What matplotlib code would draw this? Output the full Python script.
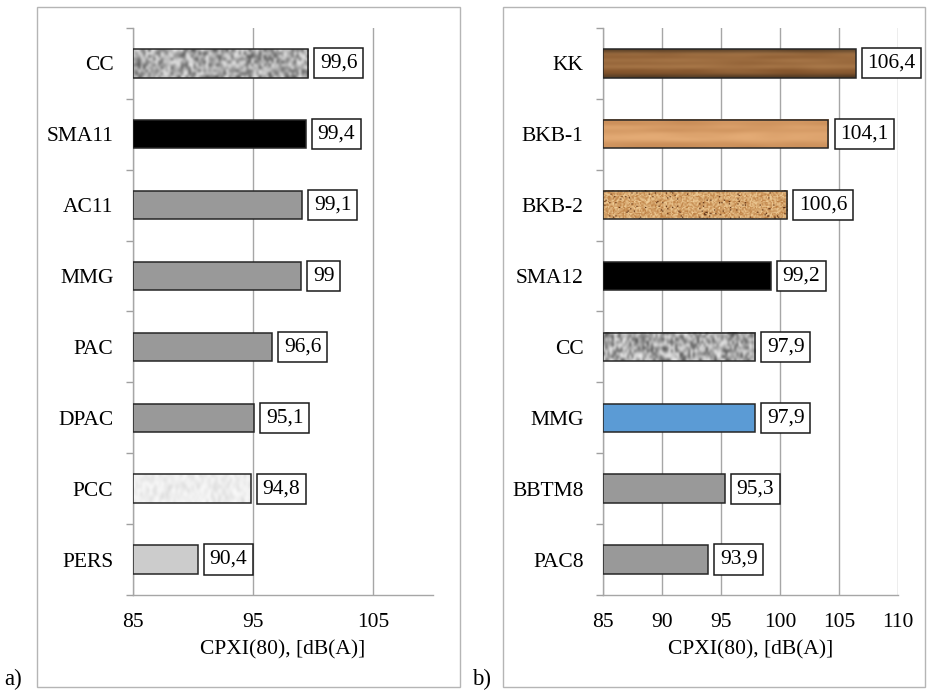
import numpy as np
import matplotlib
matplotlib.use('Agg')
import matplotlib.pyplot as plt
from matplotlib.patches import Rectangle

plt.rcParams['font.family'] = ['Liberation Serif', 'DejaVu Serif']

# panel a)
cat_a = ['CC', 'SMA11', 'AC11', 'MMG', 'PAC', 'DPAC', 'PCC', 'PERS']
val_a = [99.6, 99.4, 99.1, 99.0, 96.6, 95.1, 94.8, 90.4]
lab_a = ['99,6', '99,4', '99,1', '99', '96,6', '95,1', '94,8', '90,4']
fill_a = ['granite', '#000000', '#999999', '#999999', '#999999', '#999999', 'pcc', '#cccccc']

# panel b)
cat_b = ['KK', 'BKB-1', 'BKB-2', 'SMA12', 'CC', 'MMG', 'BBTM8', 'PAC8']
val_b = [106.4, 104.1, 100.6, 99.2, 97.9, 97.9, 95.3, 93.9]
lab_b = ['106,4', '104,1', '100,6', '99,2', '97,9', '97,9', '95,3', '93,9']
fill_b = ['wood_dark', 'wood_light', 'cork', '#000000', 'granite', '#5b9bd5', '#999999', '#999999']

XMIN, XMAX = 85, 110
FS = 15.5
rng = np.random.default_rng(7)  # only for the bar textures


def mix(c1, c2, t):
    c1 = np.array(matplotlib.colors.to_rgb(c1))
    c2 = np.array(matplotlib.colors.to_rgb(c2))
    t = np.clip(t, 0, 1)[..., None]
    return c1 * (1 - t) + c2 * t


def texture(kind):
    if kind == 'granite':
        n = rng.random((10, 70))
        return mix('#4a4a4a', '#f2f2f2', n ** 0.8), 'bicubic'
    if kind == 'pcc':
        n = rng.random((8, 50))
        return mix('#d6d6d6', '#fbfbfb', n ** 0.5), 'bicubic'
    if kind == 'wood_dark':
        rows = rng.random((9, 1))
        n = rows * 0.5 + rng.random((9, 10)) * 0.3 + 0.2
        img = mix('#6a3b17', '#bb8a58', n)
        img[0] *= 0.55
        img[-1] *= 0.5
        return img, 'bicubic'
    if kind == 'wood_light':
        rows = rng.random((9, 1))
        n = rows * 0.5 + rng.random((9, 10)) * 0.3 + 0.2
        return mix('#b87a45', '#eab27c', n), 'bicubic'
    if kind == 'cork':
        n = rng.random((24, 150))
        img = mix('#b97a3e', '#f1cf9a', n ** 0.9)
        dots = rng.random((24, 150)) > 0.97
        img[dots] = matplotlib.colors.to_rgb('#5a2c10')
        return img, 'bilinear'
    return None, None


def draw_panel(ax, cats, vals, labs, fills, ticks):
    n = len(cats)
    ys = np.arange(n)
    h = 0.4
    for y, v, lab, f in zip(ys, vals, labs, fills):
        img, interp = texture(f)
        if img is None:
            ax.barh(y, v - XMIN, left=XMIN, height=h, color=f,
                    edgecolor='#262626', linewidth=1.1, zorder=3)
        else:
            ax.imshow(img, extent=(XMIN, v, y + h / 2, y - h / 2), aspect='auto',
                      interpolation=interp, zorder=3)
            ax.barh(y, v - XMIN, left=XMIN, height=h, facecolor='none',
                    edgecolor='#262626', linewidth=1.1, zorder=4)
        ax.annotate(lab, (v, y), xytext=(8.5, 0), textcoords='offset points',
                    ha='left', va='center', fontsize=FS, zorder=5,
                    bbox=dict(boxstyle='square,pad=0.26', fc='white', ec='#1a1a1a', lw=1.1))
    ax.set_xlim(XMIN, XMAX)
    ax.set_ylim(n - 0.5, -0.5)
    ax.set_yticks(ys)
    ax.set_yticklabels(cats, fontsize=FS)
    ax.set_yticks(np.arange(n + 1) - 0.5, minor=True)
    ax.tick_params(axis='y', which='major', length=0, pad=14)
    ax.tick_params(axis='y', which='minor', length=5, color='#a0a0a0', width=1)
    ax.set_xticks(ticks)
    ax.set_xticklabels([str(t) for t in ticks], fontsize=FS)
    ax.tick_params(axis='x', length=0, pad=13)
    ax.grid(axis='x', color='#a6a6a6', linewidth=1.0, zorder=0)
    ax.set_axisbelow(True)
    for s in ['top', 'right']:
        ax.spines[s].set_visible(False)
    for s in ['left', 'bottom']:
        ax.spines[s].set_color('#a6a6a6')
        ax.spines[s].set_linewidth(1.0)
    ax.set_xlabel('CPXI(80), [dB(A)]', fontsize=FS, labelpad=6)


fig = plt.figure(figsize=(9.3, 6.92), dpi=100)
ax1 = fig.add_axes([0.1430, 0.1402, 0.3226, 0.8194])
ax2 = fig.add_axes([0.6484, 0.1402, 0.3172, 0.8194])

draw_panel(ax1, cat_a, val_a, lab_a, fill_a, [85, 95, 105])
draw_panel(ax2, cat_b, val_b, lab_b, fill_b, [85, 90, 95, 100, 105, 110])

# panel frames
fig.patches.append(Rectangle((0.0398, 0.0072), 0.4548, 0.9827, transform=fig.transFigure,
                             fill=False, edgecolor='#b5b5b5', linewidth=1.0))
fig.patches.append(Rectangle((0.5409, 0.0072), 0.4538, 0.9827, transform=fig.transFigure,
                             fill=False, edgecolor='#b5b5b5', linewidth=1.0))
fig.text(0.005, 0.018, 'a)', fontsize=16.5, ha='left', va='center')
fig.text(0.508, 0.018, 'b)', fontsize=16.5, ha='left', va='center')

fig.savefig('out.png', dpi=100)
